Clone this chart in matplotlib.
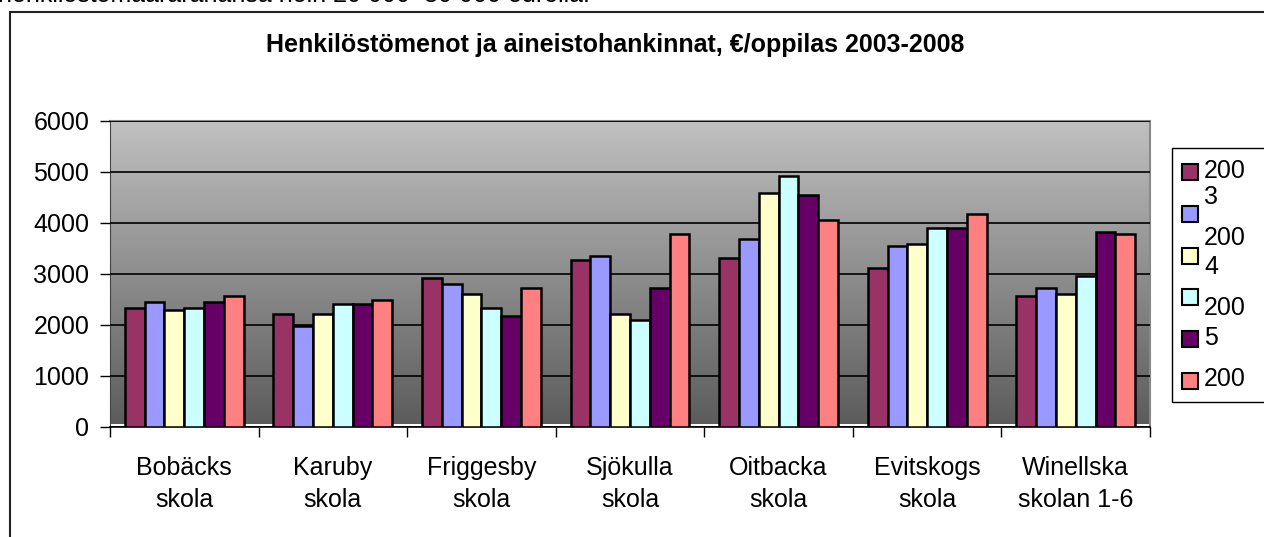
import numpy as np
import matplotlib.pyplot as plt
from matplotlib.patches import Rectangle

plt.rcParams['font.family'] = ['Liberation Sans', 'DejaVu Sans']

schools = ['Bobäcks\nskola', 'Karuby\nskola', 'Friggesby\nskola', 'Sjökulla\nskola',
           'Oitbacka\nskola', 'Evitskogs\nskola', 'Winellska\nskolan 1-6']
years = ['2003', '2004', '2005', '2006', '2007', '2008']
y2003 = [2330, 2210, 2910, 3270, 3300, 3110, 2560]
y2004 = [2445, 1975, 2800, 3345, 3690, 3540, 2710]
y2005 = [2290, 2210, 2610, 2210, 4590, 3575, 2610]
y2006 = [2330, 2405, 2330, 2090, 4910, 3890, 2955]
y2007 = [2445, 2405, 2170, 2710, 4550, 3890, 3810]
y2008 = [2555, 2485, 2710, 3770, 4045, 4165, 3770]
series = [y2003, y2004, y2005, y2006, y2007, y2008]
colors = ['#993366', '#9999FF', '#FFFFCC', '#CCFFFF', '#660066', '#FF8080']
# legend text as wrapped in the original (labels broken over lines)
legend_lines = ['200', '3', '200', '4', '200', '5', '200']
legend_line_y = [171, 197, 238, 267, 308, 338, 379]

W, H = 1264, 537
fig = plt.figure(figsize=(W / 100, H / 100), dpi=100)

def fx(px):
    return px / W

def fy(py):
    return 1 - py / H

# outer chart frame (runs off the right and bottom edges)
fig.add_artist(Rectangle((fx(10), fy(560)), fx(1300), fy(12) - fy(560),
                         transform=fig.transFigure, fill=False, ec='#222222', lw=1.5))

# cut-off line of text above the chart
fig.text(fx(-2), fy(-5), 'henkilöstömäärärahansa noin 20 000–30 000 eurolla.',
         fontsize=18, va='center', ha='left')

fig.text(fx(615), fy(45), 'Henkilöstömenot ja aineistohankinnat, €/oppilas 2003-2008',
         fontsize=18, fontweight='bold', ha='center', va='center')

left, right, top, bottom = 110, 1150, 120.7, 426.7
ax = fig.add_axes([fx(left), fy(bottom), fx(right - left), (bottom - top) / H])

x = np.arange(len(schools))
w = 1 / 7.5
grad = np.linspace(0, 1, 256).reshape(-1, 1)
ax.imshow(grad, extent=[-0.5, 6.5, 60, 6000], aspect='auto', origin='lower',
          cmap=plt.matplotlib.colors.LinearSegmentedColormap.from_list('g', ['#5c5c5c', '#c0c0c0']),
          zorder=0)

for i, (vals, c) in enumerate(zip(series, colors)):
    ax.bar(x + (i - 2.5) * w, vals, width=w, color=c, edgecolor='black', lw=1.8, zorder=3)

ax.set_xlim(-0.5, 6.5)
ax.set_ylim(0, 6000)
ax.set_yticks(np.arange(0, 6001, 1000))
ax.yaxis.grid(True, color='black', lw=1.2, zorder=1)
ax.set_axisbelow(False)
for gl in ax.get_ygridlines():
    gl.set_zorder(1)

ax.set_xticks(x)
ax.set_xticklabels(schools, fontsize=18, linespacing=1.45)
ax.set_xticks(np.arange(-0.5, 7, 1), minor=True)
ax.tick_params(axis='x', which='major', length=0, pad=21)
ax.tick_params(axis='x', which='minor', length=7, width=1, direction='out')
ax.tick_params(axis='y', length=7, width=1, pad=8, labelsize=18)

for s in ['top', 'right']:
    ax.spines[s].set_color('#888888')
    ax.spines[s].set_linewidth(1.5)
ax.spines['left'].set_color('#444444')
ax.spines['bottom'].set_color('black')
ax.spines['bottom'].set_linewidth(1.2)

# hand-built legend matching the wrapped layout
fig.add_artist(Rectangle((fx(1172), fy(402)), fx(200), fy(148) - fy(402),
                         transform=fig.transFigure, fill=False, ec='black', lw=1))
for i, c in enumerate(colors):
    cy = 172 + i * 41.8
    fig.add_artist(Rectangle((fx(1182), fy(cy + 8)), fx(16), fy(cy - 8) - fy(cy + 8),
                             transform=fig.transFigure, fc=c, ec='black', lw=1.5))
for t, ly in zip(legend_lines, legend_line_y):
    fig.text(fx(1204), fy(ly), t, fontsize=18, ha='left', va='center')

fig.savefig('out.png', dpi=100)
